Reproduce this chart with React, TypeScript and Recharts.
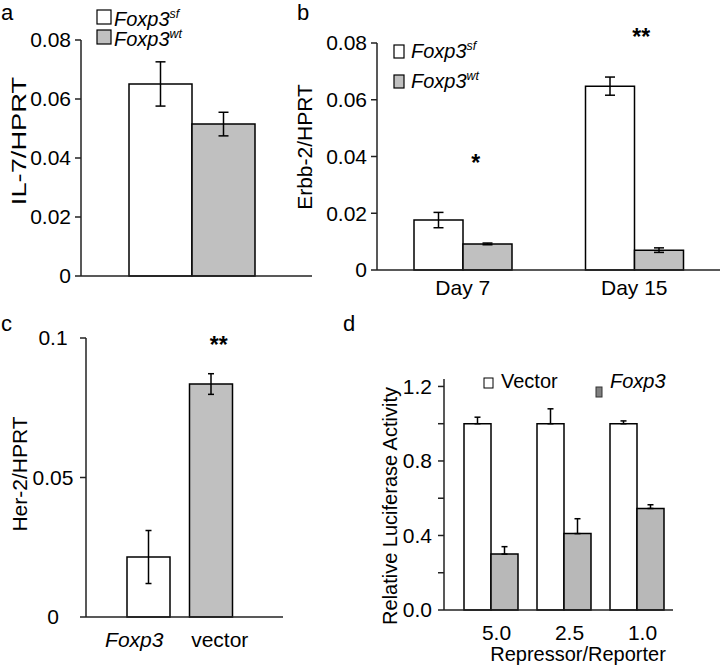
import React from 'react';
import { BarChart, Bar, XAxis, YAxis, ErrorBar, Cell, ReferenceDot } from 'recharts';

// panel a
const IL7_GROUPS = ['IL-7'];
const IL7_SF = [0.0651];
const IL7_SF_ERR = [0.0075];
const IL7_WT = [0.0515];
const IL7_WT_ERR = [0.004];
const A_TICKS = [0, 0.02, 0.04, 0.06, 0.08];

// panel b
const ERBB_DAYS = ['Day 7', 'Day 15'];
const ERBB_SF = [0.0176, 0.0648];
const ERBB_SF_ERR = [0.0027, 0.0032];
const ERBB_WT = [0.0092, 0.007];
const ERBB_WT_ERR = [0.0003, 0.0008];
const B_TICKS = [0, 0.02, 0.04, 0.06, 0.08];
const B_STARS = [
  { day: 'Day 7', y: 0.0377, text: '*' },
  { day: 'Day 15', y: 0.0821, text: '**' },
];

// panel c
const HER2_GROUPS = ['Foxp3', 'vector'];
const HER2_VALUES = [0.0215, 0.0835];
const HER2_ERR = [0.0095, 0.0037];
const C_TICKS = [0, 0.05, 0.1];

// panel d
const RATIOS = ['5.0', '2.5', '1.0'];
const LUC_VECTOR = [1.0, 1.0, 1.0];
const LUC_VECTOR_ERR = [0.035, 0.08, 0.015];
const LUC_FOXP3 = [0.3, 0.41, 0.545];
const LUC_FOXP3_ERR = [0.04, 0.08, 0.02];
const D_TICKS = [0, 0.2, 0.4, 0.6, 0.8, 1.0, 1.2];
const D_LABELED = [0, 0.4, 0.8, 1.2];

const FONT = '"Liberation Sans", Arial, Helvetica, sans-serif';
const AXIS = { stroke: '#222', strokeWidth: 1.5 };
const GRAY = '#c0c0c0';
const tickFont = { fontSize: 21, fill: '#000' };
const SVG_STYLE = { overflow: 'visible' };

const aData = IL7_GROUPS.map((name, i) => ({
  name, sf: IL7_SF[i], sfErr: IL7_SF_ERR[i], wt: IL7_WT[i], wtErr: IL7_WT_ERR[i],
}));
const bData = ERBB_DAYS.map((name, i) => ({
  name, sf: ERBB_SF[i], sfErr: ERBB_SF_ERR[i], wt: ERBB_WT[i], wtErr: ERBB_WT_ERR[i],
}));
const cData = HER2_GROUPS.map((name, i) => ({ name, value: HER2_VALUES[i], err: HER2_ERR[i] }));
const dData = RATIOS.map((name, i) => ({
  name,
  vector: LUC_VECTOR[i],
  vectorErr: [0, LUC_VECTOR_ERR[i]],
  foxp3: LUC_FOXP3[i],
  foxp3Err: [0, LUC_FOXP3_ERR[i]],
}));

const C_TICK_SHIFT = [-14, 9];

const CTick = (props: any) => {
  const { x, y, payload, index } = props;
  return (
    <text x={x + C_TICK_SHIFT[index]} y={y} dy="0.71em" textAnchor="middle" fontSize={21}
      fontStyle={index === 0 ? 'italic' : 'normal'} fill="#000">
      {payload.value}
    </text>
  );
};

const CYTick = (props: any) => {
  const { x, y, payload } = props;
  return (
    <text x={x - 27} y={y} dy="0.355em" textAnchor="middle" fontSize={21} fill="#000">
      {payload.value}
    </text>
  );
};

const DXTick = (props: any) => {
  const { x, y, payload } = props;
  return (
    <text x={x + 6} y={y} dy="0.71em" textAnchor="middle" fontSize={21} fill="#000">
      {payload.value}
    </text>
  );
};

const DYTick = (props: any) => {
  const { x, y, payload } = props;
  if (!D_LABELED.some((v) => Math.abs(v - payload.value) < 1e-6)) return <g />;
  return (
    <text x={x} y={y} dy="0.355em" textAnchor="end" fontSize={21} fill="#000">
      {Number(payload.value).toFixed(1)}
    </text>
  );
};

const Sup = ({ base, sup, size }: { base: string; sup: string; size: number }) => (
  <>
    <tspan fontStyle="italic">{base}</tspan>
    <tspan fontStyle="italic" fontSize={size * 0.62} dy={-size * 0.38}>{sup}</tspan>
  </>
);

const Overlay = () => (
  <svg width={720} height={666} style={{ position: 'absolute', left: 0, top: 0, pointerEvents: 'none', overflow: 'visible' }}
    fontFamily={FONT}>
    <text x={1} y={20} fontSize={22}>a</text>
    <text x={297} y={20} fontSize={22}>b</text>
    <text x={1} y={331} fontSize={22}>c</text>
    <text x={343} y={331} fontSize={22}>d</text>

    <text transform="translate(26,141) rotate(-90) scale(1.3,1)" textAnchor="middle" fontSize={21}>IL-7/HPRT</text>
    <text transform="translate(312,147) rotate(-90)" textAnchor="middle" fontSize={21}>Erbb-2/HPRT</text>
    <text transform="translate(27,474) rotate(-90)" textAnchor="middle" fontSize={21}>Her-2/HPRT</text>
    <text transform="translate(397,506) rotate(-90)" textAnchor="middle" fontSize={20}>Relative Luciferase Activity</text>
    <text x={578} y={661} textAnchor="middle" fontSize={20}>Repressor/Reporter</text>

    {/* legend a */}
    <rect x={97} y={10} width={14} height={14} fill="#fff" stroke="#000" strokeWidth={1.2} />
    <text x={114} y={26} fontSize={20}><Sup base="Foxp3" sup="sf" size={20} /></text>
    <rect x={97} y={30} width={14} height={14} fill={GRAY} stroke="#000" strokeWidth={1.2} />
    <text x={114} y={46} fontSize={20}><Sup base="Foxp3" sup="wt" size={20} /></text>

    {/* legend b */}
    <rect x={394} y={45} width={10} height={13} fill="#fff" stroke="#000" strokeWidth={1.2} />
    <text x={411} y={58} fontSize={20}><Sup base="Foxp3" sup="sf" size={20} /></text>
    <rect x={394} y={75} width={10} height={13} fill={GRAY} stroke="#000" strokeWidth={1.2} />
    <text x={411} y={88} fontSize={20}><Sup base="Foxp3" sup="wt" size={20} /></text>

    {/* legend d */}
    <rect x={484} y={378} width={9} height={10} fill="#fff" stroke="#000" strokeWidth={1} />
    <text x={501} y={388} fontSize={20}>Vector</text>
    <rect x={596} y={387} width={6} height={10} fill="#808080" stroke="#333" strokeWidth={1} />
    <text x={610} y={388} fontSize={20} fontStyle="italic">Foxp3</text>
  </svg>
);

export default function App() {
  return (
    <div style={{ position: 'absolute', left: 0, top: 0, width: 720, height: 666, background: '#fff', fontFamily: FONT }}>
      {/* a */}
      <div style={{ position: 'absolute', left: 0, top: 0 }}>
        <BarChart width={360} height={330} data={aData} barGap={0} style={SVG_STYLE}
          margin={{ top: 40, right: 48, bottom: 44, left: 0 }}>
          <XAxis dataKey="name" tick={false} tickLine={false} height={10} axisLine={AXIS}
            padding={{ left: 0, right: 9 }} />
          <YAxis width={81} domain={[0, 0.08]} ticks={A_TICKS} interval={0} tick={tickFont}
            tickSize={6} tickMargin={4} axisLine={AXIS} tickLine={AXIS} />
          <Bar dataKey="sf" fill="#fff" stroke="#000" strokeWidth={1.5} barSize={63} isAnimationActive={false}>
            <ErrorBar dataKey="sfErr" width={5} stroke="#000" strokeWidth={1.5} />
          </Bar>
          <Bar dataKey="wt" fill={GRAY} stroke="#000" strokeWidth={1.5} barSize={63} isAnimationActive={false}>
            <ErrorBar dataKey="wtErr" width={5} stroke="#000" strokeWidth={1.5} />
          </Bar>
        </BarChart>
      </div>

      {/* b */}
      <div style={{ position: 'absolute', left: 290, top: 0 }}>
        <BarChart width={430} height={330} data={bData} barGap={0} style={SVG_STYLE}
          margin={{ top: 43, right: 0, bottom: 24, left: 0 }}>
          <XAxis dataKey="name" tick={tickFont} tickLine={false} tickSize={6} tickMargin={4} height={36}
            axisLine={AXIS} />
          <YAxis width={87} domain={[0, 0.08]} ticks={B_TICKS} interval={0} tick={tickFont}
            tickSize={6} tickMargin={4} axisLine={AXIS} tickLine={AXIS} />
          <Bar dataKey="sf" fill="#fff" stroke="#000" strokeWidth={1.5} barSize={49} isAnimationActive={false}>
            <ErrorBar dataKey="sfErr" width={5} stroke="#000" strokeWidth={1.5} />
          </Bar>
          <Bar dataKey="wt" fill={GRAY} stroke="#000" strokeWidth={1.5} barSize={49} isAnimationActive={false}>
            <ErrorBar dataKey="wtErr" width={5} stroke="#000" strokeWidth={1.5} />
          </Bar>
          {B_STARS.map((s, i) => (
            <ReferenceDot key={s.day} x={s.day} y={s.y} r={1} fill="none" stroke="none" ifOverflow="visible"
              label={{ value: s.text, position: 'center', fontSize: 23, fontWeight: 'bold', fill: '#000', dx: i === 0 ? 13 : 7 }} />
          ))}
        </BarChart>
      </div>

      {/* c */}
      <div style={{ position: 'absolute', left: 0, top: 320 }}>
        <BarChart width={360} height={346} data={cData} style={SVG_STYLE}
          margin={{ top: 18, right: 77, bottom: 9, left: 0 }}>
          <XAxis dataKey="name" tick={<CTick />} tickLine={false} tickSize={6} tickMargin={9} height={40}
            axisLine={AXIS} padding={{ left: 31, right: 41 }} />
          <YAxis width={86} domain={[0, 0.1]} ticks={C_TICKS} interval={0} tick={<CYTick />}
            tickSize={6} tickMargin={0} axisLine={AXIS} tickLine={AXIS} />
          <Bar dataKey="value" stroke="#000" strokeWidth={1.5} barSize={43} isAnimationActive={false}>
            {cData.map((d, i) => (
              <Cell key={d.name} fill={i === 0 ? '#fff' : GRAY} />
            ))}
            <ErrorBar dataKey="err" width={3} stroke="#000" strokeWidth={1.5} />
          </Bar>
          <ReferenceDot x="vector" y={0.0975} r={1} fill="none" stroke="none" ifOverflow="visible"
            label={{ value: '**', position: 'center', fontSize: 23, fontWeight: 'bold', fill: '#000', dx: 8 }} />
        </BarChart>
      </div>

      {/* d */}
      <div style={{ position: 'absolute', left: 360, top: 330 }}>
        <BarChart width={360} height={336} data={dData} barGap={0} style={SVG_STYLE}
          margin={{ top: 49, right: 47, bottom: 0, left: 0 }}>
          <XAxis dataKey="name" tick={<DXTick />} tickLine={false} tickSize={6} tickMargin={9} height={56}
            axisLine={AXIS} padding={{ left: 10, right: 0 }} />
          <YAxis width={84} domain={[0, 1.24]} ticks={D_TICKS} interval={0} tick={<DYTick />}
            tickSize={6} tickMargin={6} axisLine={AXIS} tickLine={AXIS} />
          <Bar dataKey="vector" fill="#fff" stroke="#000" strokeWidth={1.5} barSize={27} isAnimationActive={false}>
            <ErrorBar dataKey="vectorErr" width={3} stroke="#000" strokeWidth={1.5} />
          </Bar>
          <Bar dataKey="foxp3" fill="#b8b8b8" stroke="#000" strokeWidth={1.5} barSize={27} isAnimationActive={false}>
            <ErrorBar dataKey="foxp3Err" width={3} stroke="#000" strokeWidth={1.5} />
          </Bar>
        </BarChart>
      </div>

      <Overlay />
    </div>
  );
}
